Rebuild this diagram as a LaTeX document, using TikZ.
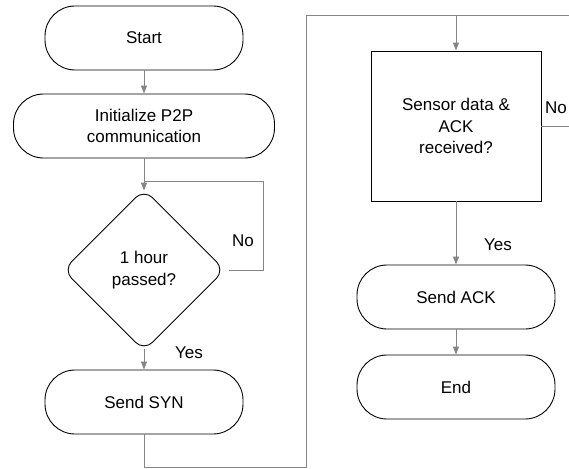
\documentclass[tikz,border=0pt]{standalone}
\usepackage{fontspec}
\setmainfont{Liberation Sans}
\usetikzlibrary{arrows.meta,shapes.geometric}

\definecolor{linegray}{HTML}{858585}

\begin{document}
\begin{tikzpicture}[
    x=1pt, y=-1pt,
    every node/.style={font=\fontsize{17}{21.5}\selectfont},
    term/.style={draw, line width=0.9pt, rounded corners=30pt, align=center, minimum width=198pt, minimum height=64pt, inner sep=0pt},
    decide/.style={draw, line width=0.9pt, diamond, rounded corners=12pt, align=center, minimum width=162pt, minimum height=162pt, inner sep=0pt},
    checkbox/.style={draw, line width=0.9pt, rectangle, align=center, minimum width=170pt, minimum height=150pt, inner sep=0pt},
    link/.style={draw=linegray, line width=1pt},
    flow/.style={link, -{Triangle[length=8pt, width=6pt]}},
    lbl/.style={inner sep=0pt}
]
\fill[white] (0,0) rectangle (569,468);
\clip (0,0) rectangle (569,468);

% left column
\node[term] (start) at (144,38) {Start};
\node[term, minimum width=261pt] (init) at (144,126) {Initialize P2P\\communication};
\node[decide] (wait) at (144,270) {1 hour\\passed?};
\node[term] (syn) at (144,402) {Send SYN};

% right column
\node[checkbox] (check) at (456,126) {Sensor data \&\\ACK\\received?};
\node[term] (ack) at (456,297) {Send ACK};
\node[term] (end) at (456,387) {End};

% junction points
\coordinate (waitjoin) at (144,181);
\coordinate (waitright) at (263,270);
\coordinate (bottomleft) at (306,467);
\coordinate (merge) at (456,16);
\coordinate (checkright) at (600,126);

\draw[flow] (start) -- (init);
\draw[flow, shorten >=-2pt] (init) -- (wait);
\draw[link, shorten <=4pt] (wait.east) -- (waitright) |- (waitjoin);
\node[lbl] (waitno) at (243,241) {No};
\draw[flow, shorten <=-2pt] (wait) -- (syn);
\node[lbl] (waityes) at (189,353) {Yes};

\draw[flow] (syn.south) |- (bottomleft) |- (merge) -- (check.north);
\draw[link] (check.east) -- (checkright) |- (merge);
\node[lbl] (checkno) at (556,108) {No};
\draw[flow] (check) -- (ack);
\node[lbl] (checkyes) at (498,245) {Yes};
\draw[flow] (ack) -- (end);
\end{tikzpicture}
\end{document}
